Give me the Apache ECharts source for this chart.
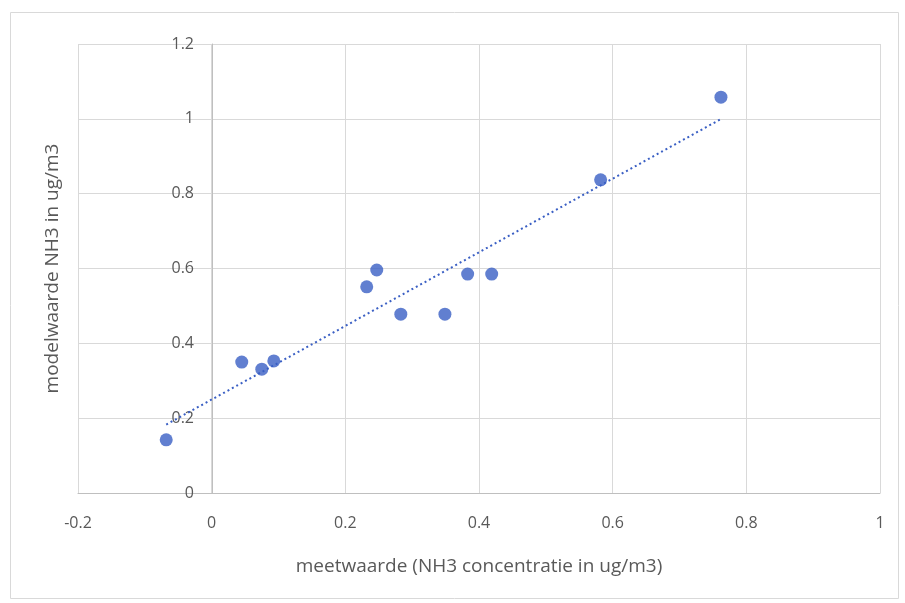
<!DOCTYPE html>
<html>
<head>
<meta charset="utf-8">
<script src="https://cdn.jsdelivr.net/npm/echarts@6/dist/echarts.min.js"></script>
<style>
  html, body { margin: 0; padding: 0; background: #fff; }
  #chart { width: 905px; height: 603px; }
</style>
</head>
<body>
<div id="chart"></div>
<script>
// meetwaarde vs modelwaarde NH3
const meetwaarde = [-0.068, 0.045, 0.075, 0.093, 0.232, 0.247, 0.283, 0.349, 0.383, 0.419, 0.582, 0.762];
const modelwaarde = [0.142, 0.350, 0.331, 0.353, 0.551, 0.596, 0.478, 0.478, 0.585, 0.585, 0.837, 1.058];

// lineaire trendlijn (kleinste kwadraten)
function trend(xs, ys) {
  let n = xs.length, sx = 0, sy = 0, sxx = 0, sxy = 0
  for (let i = 0; i < n; i++) {
    sx += xs[i]; sy += ys[i]; sxx += xs[i] * xs[i]; sxy += xs[i] * ys[i]
  }
  let b = (n * sxy - sx * sy) / (n * sxx - sx * sx)
  let a = (sy - b * sx) / n
  let x0 = Math.min(...xs), x1 = Math.max(...xs)
  return [[x0, a + b * x0], [x1, a + b * x1]]
}

const font = '"Open Sans", "Liberation Sans", sans-serif'
const chart = echarts.init(document.getElementById('chart'))

chart.setOption({
  animation: false,
  grid: { left: 78, right: 25, top: 44, bottom: 110, containLabel: false, outerBoundsMode: 'none' },
  graphic: [{
    type: 'rect',
    shape: { x: 10.5, y: 12.5, width: 888, height: 586 },
    style: { fill: 'none', stroke: '#d9d9d9', lineWidth: 1 }
  }],
  xAxis: {
    type: 'value',
    min: -0.2, max: 1, interval: 0.2,
    name: 'meetwaarde (NH3 concentratie in ug/m3)',
    nameLocation: 'middle',
    nameGap: 64,
    nameTextStyle: { fontFamily: font, fontSize: 19, color: '#595959' },
    axisLine: { show: true, onZero: false, lineStyle: { color: '#bfbfbf', width: 1 } },
    axisTick: { show: false },
    axisLabel: {
      margin: 22, fontFamily: font, fontSize: 16, color: '#595959',
      formatter: v => String(Math.round(v * 10) / 10)
    },
    splitLine: { lineStyle: { color: '#d9d9d9', width: 1 } }
  },
  yAxis: {
    type: 'value',
    min: 0, max: 1.2, interval: 0.2,
    // as aslijn op x = 0 (Excel-stijl), -134 px naar binnen
    offset: -134,
    name: 'modelwaarde NH3 in ug/m3',
    nameLocation: 'middle',
    nameGap: 150,
    nameTextStyle: { fontFamily: font, fontSize: 19, color: '#595959' },
    axisLine: { show: true, onZero: false, lineStyle: { color: '#bfbfbf', width: 1 } },
    axisTick: { show: false },
    axisLabel: {
      margin: 18, fontFamily: font, fontSize: 16, color: '#595959',
      formatter: v => String(Math.round(v * 10) / 10)
    },
    splitLine: { lineStyle: { color: '#d9d9d9', width: 1 } }
  },
  series: [
    {
      type: 'line',
      data: trend(meetwaarde, modelwaarde),
      symbol: 'none',
      lineStyle: { color: '#3a5fc4', width: 2, type: [2, 3] },
      silent: true,
      z: 1
    },
    {
      type: 'scatter',
      data: meetwaarde.map((x, i) => [x, modelwaarde[i]]),
      symbolSize: 13,
      itemStyle: { color: '#3a5fc4' },
      z: 2
    }
  ]
})
</script>
</body>
</html>
